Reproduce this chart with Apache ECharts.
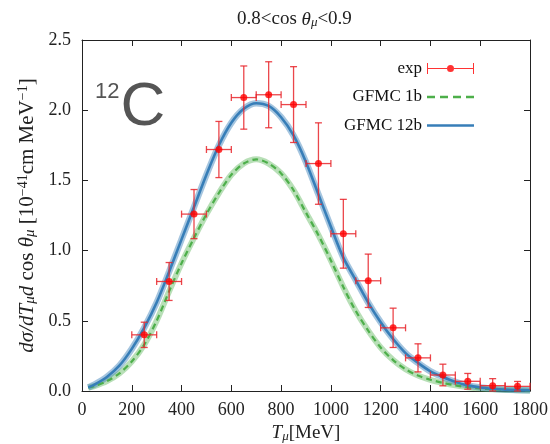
<!DOCTYPE html>
<html>
<head>
<meta charset="utf-8">
<script src="https://cdn.jsdelivr.net/npm/echarts@6/dist/echarts.min.js"></script>
<style>
  html, body { margin: 0; padding: 0; background: #fff; }
  #chart { width: 550px; height: 444px; }
</style>
</head>
<body>
<div id="chart"></div>
<script>
// theory curves (MeV -> cross section)
const tCurve = [25, 50, 100, 150, 200, 250, 300, 350, 400, 450, 500, 550, 600, 650, 700, 750, 800, 850, 900, 950,
  1000, 1050, 1100, 1150, 1200, 1250, 1300, 1350, 1400, 1450, 1500, 1550, 1600, 1650, 1700, 1750, 1800]
const gfmc12b = [0.025, 0.045, 0.10, 0.18, 0.30, 0.45, 0.63, 0.85, 1.08, 1.31, 1.54, 1.75, 1.91, 2.01, 2.05, 2.03, 1.95, 1.82, 1.63, 1.40,
  1.17, 0.95, 0.79, 0.63, 0.49, 0.37, 0.27, 0.20, 0.14, 0.10, 0.065, 0.04, 0.025, 0.016, 0.01, 0.007, 0.005]
const gfmc1b = [0.025, 0.035, 0.07, 0.125, 0.21, 0.33, 0.50, 0.71, 0.91, 1.09, 1.26, 1.41, 1.54, 1.62, 1.65, 1.62, 1.55, 1.43, 1.27, 1.11,
  0.93, 0.74, 0.57, 0.43, 0.31, 0.22, 0.155, 0.11, 0.08, 0.058, 0.04, 0.027, 0.018, 0.012, 0.008, 0.006, 0.004]

// experiment
const expT = [250, 350, 450, 550, 650, 750, 850, 950, 1050, 1150, 1250, 1350, 1450, 1550, 1650, 1750]
const expVal = [0.40, 0.78, 1.26, 1.72, 2.09, 2.11, 2.04, 1.62, 1.12, 0.785, 0.45, 0.236, 0.114, 0.069, 0.038, 0.033]
const expErr = [0.09, 0.135, 0.175, 0.20, 0.225, 0.235, 0.27, 0.29, 0.245, 0.19, 0.14, 0.10, 0.077, 0.056, 0.05, 0.035]
const expBin = [50, 50, 50, 50, 50, 50, 50, 50, 50, 50, 50, 50, 50, 50, 50, 50]

const xTicks = [0, 200, 400, 600, 800, 1000, 1200, 1400, 1600, 1800]
const yTicks = [0.0, 0.5, 1.0, 1.5, 2.0, 2.5]

const serif = '"Liberation Serif", "DejaVu Serif", serif'
const BLUE = '#377eb8'
const GREEN = '#4daf4a'
const RED = '#ff0000'

let pair = (xs, ys) => xs.map((x, i) => [x, ys[i]])

let chart = echarts.init(document.getElementById('chart'))

let axisCommon = {
  axisLine: { show: true, onZero: false, lineStyle: { color: '#222', width: 1 } },
  axisTick: { show: true, inside: true, length: 6, lineStyle: { color: '#222' } },
  splitLine: { show: false }
}

let option = {
  animation: false,
  backgroundColor: '#fff',
  title: {
    text: '0.8<cos {i|θ}{sub|μ}<0.9',
    left: 232,
    top: 5,
    textStyle: {
      fontFamily: serif, fontSize: 19, fontWeight: 'normal', color: '#222',
      rich: {
        i: { fontFamily: serif, fontSize: 19, fontStyle: 'italic', color: '#222' },
        sub: { fontFamily: serif, fontSize: 13, fontStyle: 'italic', color: '#222', verticalAlign: 'bottom' }
      }
    }
  },
  graphic: [{
    type: 'text',
    left: 95,
    top: 77,
    style: {
      text: '{sup|12}{big|C}',
      rich: {
        sup: { fontFamily: '"Liberation Sans", Arial, sans-serif', fontSize: 22, fill: '#555', verticalAlign: 'top', padding: [4, 1, 0, 0] },
        big: { fontFamily: '"Liberation Sans", Arial, sans-serif', fontSize: 62, fill: '#555' }
      }
    }
  }],
  legend: {
    orient: 'vertical',
    right: 71,
    top: 55,
    align: 'right',
    itemWidth: 47,
    itemHeight: 14,
    itemGap: 11.5,
    selectedMode: false,
    textStyle: { fontFamily: serif, fontSize: 17, color: '#111' },
    data: [
      { name: 'exp', icon: 'path://M0,13h40v2H0z M54,13h40v2h-40z M0,3h2v22H0z M92,3h2v22h-2z M40,14a7,7 0 1,0 14,0a7,7 0 1,0 -14,0z' },
      { name: 'GFMC 1b', icon: 'path://M0,0h16v5H0z M26,0h16v5h-16z M52,0h16v5h-16z M78,0h16v5h-16z' },
      { name: 'GFMC 12b', icon: 'path://M0,0h94v5H0z' }
    ]
  },
  grid: { left: 82, right: 20, top: 40, bottom: 53, outerBoundsMode: 'none', containLabel: false },
  xAxis: [{
    ...axisCommon,
    type: 'value',
    min: 0, max: 1800, interval: 200,
    name: '{i|T}{sub|μ}[MeV]',
    nameLocation: 'middle',
    nameGap: 32,
    nameTextStyle: {
      fontFamily: serif, fontSize: 19, color: '#222',
      rich: {
        i: { fontFamily: serif, fontSize: 19, fontStyle: 'italic', color: '#222' },
        sub: { fontFamily: serif, fontSize: 13, fontStyle: 'italic', color: '#222', verticalAlign: 'bottom' }
      }
    },
    axisLabel: { fontFamily: serif, fontSize: 18, color: '#222', margin: 10,
      formatter: v => xTicks.indexOf(v) >= 0 ? String(v) : '' }
  }, {
    ...axisCommon,
    type: 'value',
    position: 'top',
    min: 0, max: 1800, interval: 200,
    axisLabel: { show: false }
  }],
  yAxis: [{
    ...axisCommon,
    type: 'value',
    min: 0, max: 2.5, interval: 0.5,
    name: '{i|dσ/dT}{sub|μ}{i|d} cos {i|θ}{sub|μ} [10{sup|−41}cm MeV{sup|−1}]',
    nameLocation: 'middle',
    nameRotate: 90,
    nameGap: 44,
    nameTextStyle: {
      fontFamily: serif, fontSize: 21, color: '#222',
      rich: {
        i: { fontFamily: serif, fontSize: 21, fontStyle: 'italic', color: '#222' },
        sub: { fontFamily: serif, fontSize: 15, fontStyle: 'italic', color: '#222', verticalAlign: 'bottom' },
        sup: { fontFamily: serif, fontSize: 14, color: '#222', verticalAlign: 'top' }
      }
    },
    axisLabel: { fontFamily: serif, fontSize: 18, color: '#222', margin: 11,
      formatter: v => yTicks.indexOf(v) >= 0 ? v.toFixed(1) : '' }
  }, {
    ...axisCommon,
    type: 'value',
    position: 'right',
    min: 0, max: 2.5, interval: 0.5,
    axisLabel: { show: false }
  }],
  series: [
    {
      name: 'band1b', type: 'line', smooth: 0.3, symbol: 'none', silent: true, z: 1,
      data: pair(tCurve, gfmc1b),
      lineStyle: { color: GREEN, width: 6, opacity: 0.4 }
    },
    {
      name: 'band12b', type: 'line', smooth: 0.3, symbol: 'none', silent: true, z: 1,
      data: pair(tCurve, gfmc12b),
      lineStyle: { color: BLUE, width: 6.5, opacity: 0.45 }
    },
    {
      name: 'GFMC 1b', type: 'line', smooth: 0.3, symbol: 'none', z: 2,
      data: pair(tCurve, gfmc1b),
      itemStyle: { color: GREEN },
      lineStyle: { color: GREEN, width: 2.2, type: [6, 4] }
    },
    {
      name: 'GFMC 12b', type: 'line', smooth: 0.3, symbol: 'none', z: 3,
      data: pair(tCurve, gfmc12b),
      itemStyle: { color: BLUE },
      lineStyle: { color: BLUE, width: 2.6 }
    },
    {
      name: 'expErr', type: 'custom', z: 4, silent: true,
      data: expT.map((t, i) => [t, expVal[i], expBin[i], expErr[i]]),
      renderItem: function (params, api) {
        let x = api.value(0), y = api.value(1), dx = api.value(2), dy = api.value(3)
        let c = api.coord([x, y])
        let l = api.coord([x - dx, y])
        let r = api.coord([x + dx, y])
        let t = api.coord([x, y + dy])
        let b = api.coord([x, Math.max(y - dy, 0)])
        let cap = 3.5
        let st = { stroke: '#e8262b', lineWidth: 1.3, opacity: 0.85 }
        let ln = (x1, y1, x2, y2) => ({ type: 'line', shape: { x1, y1, x2, y2 }, style: st })
        return {
          type: 'group',
          children: [
            ln(l[0], c[1], r[0], c[1]),
            ln(l[0], c[1] - cap, l[0], c[1] + cap),
            ln(r[0], c[1] - cap, r[0], c[1] + cap),
            ln(c[0], t[1], c[0], b[1]),
            ln(c[0] - cap, t[1], c[0] + cap, t[1]),
            ln(c[0] - cap, b[1], c[0] + cap, b[1])
          ]
        }
      }
    },
    {
      name: 'exp', type: 'scatter', z: 5,
      symbol: 'circle', symbolSize: 7,
      data: pair(expT, expVal),
      itemStyle: { color: RED }
    }
  ]
}

chart.setOption(option)
</script>
</body>
</html>
